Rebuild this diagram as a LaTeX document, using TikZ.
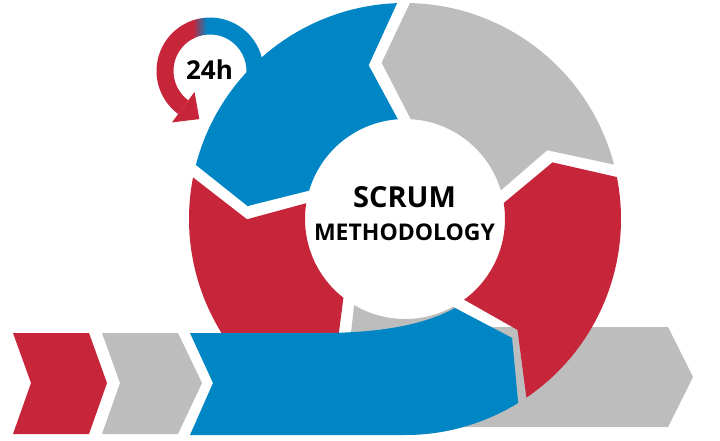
\documentclass[tikz,border=0pt]{standalone}
\usepackage{fontspec}
\setmainfont{Open Sans}
\usetikzlibrary{calc}

\definecolor{scrumblue}{RGB}{0,134,196}
\definecolor{scrumred}{RGB}{198,37,58}
\definecolor{scrumgray}{RGB}{190,189,190}

% one piece of the ring: start boundary, end boundary, colour
\newcommand{\ringpart}[3]{%
  \fill[#3] ($(C)+({#1+1.7}:216pt)$) arc[start angle=#1+1.7, end angle=#2-1.7, radius=216pt]
    -- ($(C)+({#2+8.1}:158pt)$) -- ($(C)+({#2-3.7}:100pt)$)
    arc[start angle=#2-3.7, end angle=#1+3.7, radius=100pt]
    -- ($(C)+({#1+12.9}:158pt)$) -- cycle;}

\begin{document}
\begin{tikzpicture}[x=1pt, y=1pt,
    heading/.style={inner sep=0pt, text=black}]
        \useasboundingbox (0,0) rectangle (720,440);
        \coordinate (C) at (405,221);
        \coordinate (H) at (210,369);

        % long arrow behind the circle
        \fill[scrumgray] (440,113) -- (668,113) -- (693,63) -- (668,13) -- (440,13) -- cycle;

        \ringpart{12.9}{90.4}{scrumgray}
        \ringpart{90.4}{167.2}{scrumblue}
        \ringpart{167.2}{235.7}{scrumred}
        \ringpart{235.7}{302.5}{scrumgray}
        \ringpart{302.5}{372.9}{scrumred}

        % band leaving the circle
        \fill[scrumblue] (190,107) -- (320,107) .. controls (370,107) and (419.9,112.6) .. ($(C)+(299.3:102pt)$)
            -- ($(C)+(312:160pt)$) -- ($(C)+(301.6:216pt)$)
            arc[start angle=301.6, end angle=270, radius=216pt] -- (190,5) -- (213,57) -- cycle;

        \fill[scrumred] (13,107) -- (89,107) -- (107,57) -- (89,6) -- (13,6) -- (31,57) -- cycle;
        \fill[scrumgray] (102,107) -- (178,107) -- (202,57) -- (178,6) -- (102,6) -- (120,57) -- cycle;

        \node[heading, font=\bfseries\fontsize{29}{34}\selectfont] (scrum) at (404.5,243) {SCRUM};
        \node[heading, font=\bfseries\fontsize{23}{27}\selectfont] (method) [below of=scrum, node distance=35pt] {METHODOLOGY};

        % daily loop
        \begin{scope}
            \clip ($(H)+(-15:53.5pt)$) arc[start angle=-15, end angle=233.5, radius=53.5pt]
                -- ($(H)+(233.5:36.5pt)$) arc[start angle=233.5, end angle=-15, radius=36.5pt] -- cycle;
            \fill[scrumred] (150,300) rectangle (193.5,430);
            \shade[left color=scrumred, right color=scrumblue] (193,300) rectangle (207,430);
            \fill[scrumblue] (206.5,300) rectangle (275,430);
        \end{scope}
        \fill[scrumred] ($(H)+(233.5:64pt)$) -- ($(H)+(233.5:45pt)+(323.5:20pt)$) -- ($(H)+(233.5:26pt)$) -- cycle;
        \node[heading, font=\bfseries\fontsize{26}{30}\selectfont] (hours) at (209.5,370) {24h};

\end{tikzpicture}
\end{document}
